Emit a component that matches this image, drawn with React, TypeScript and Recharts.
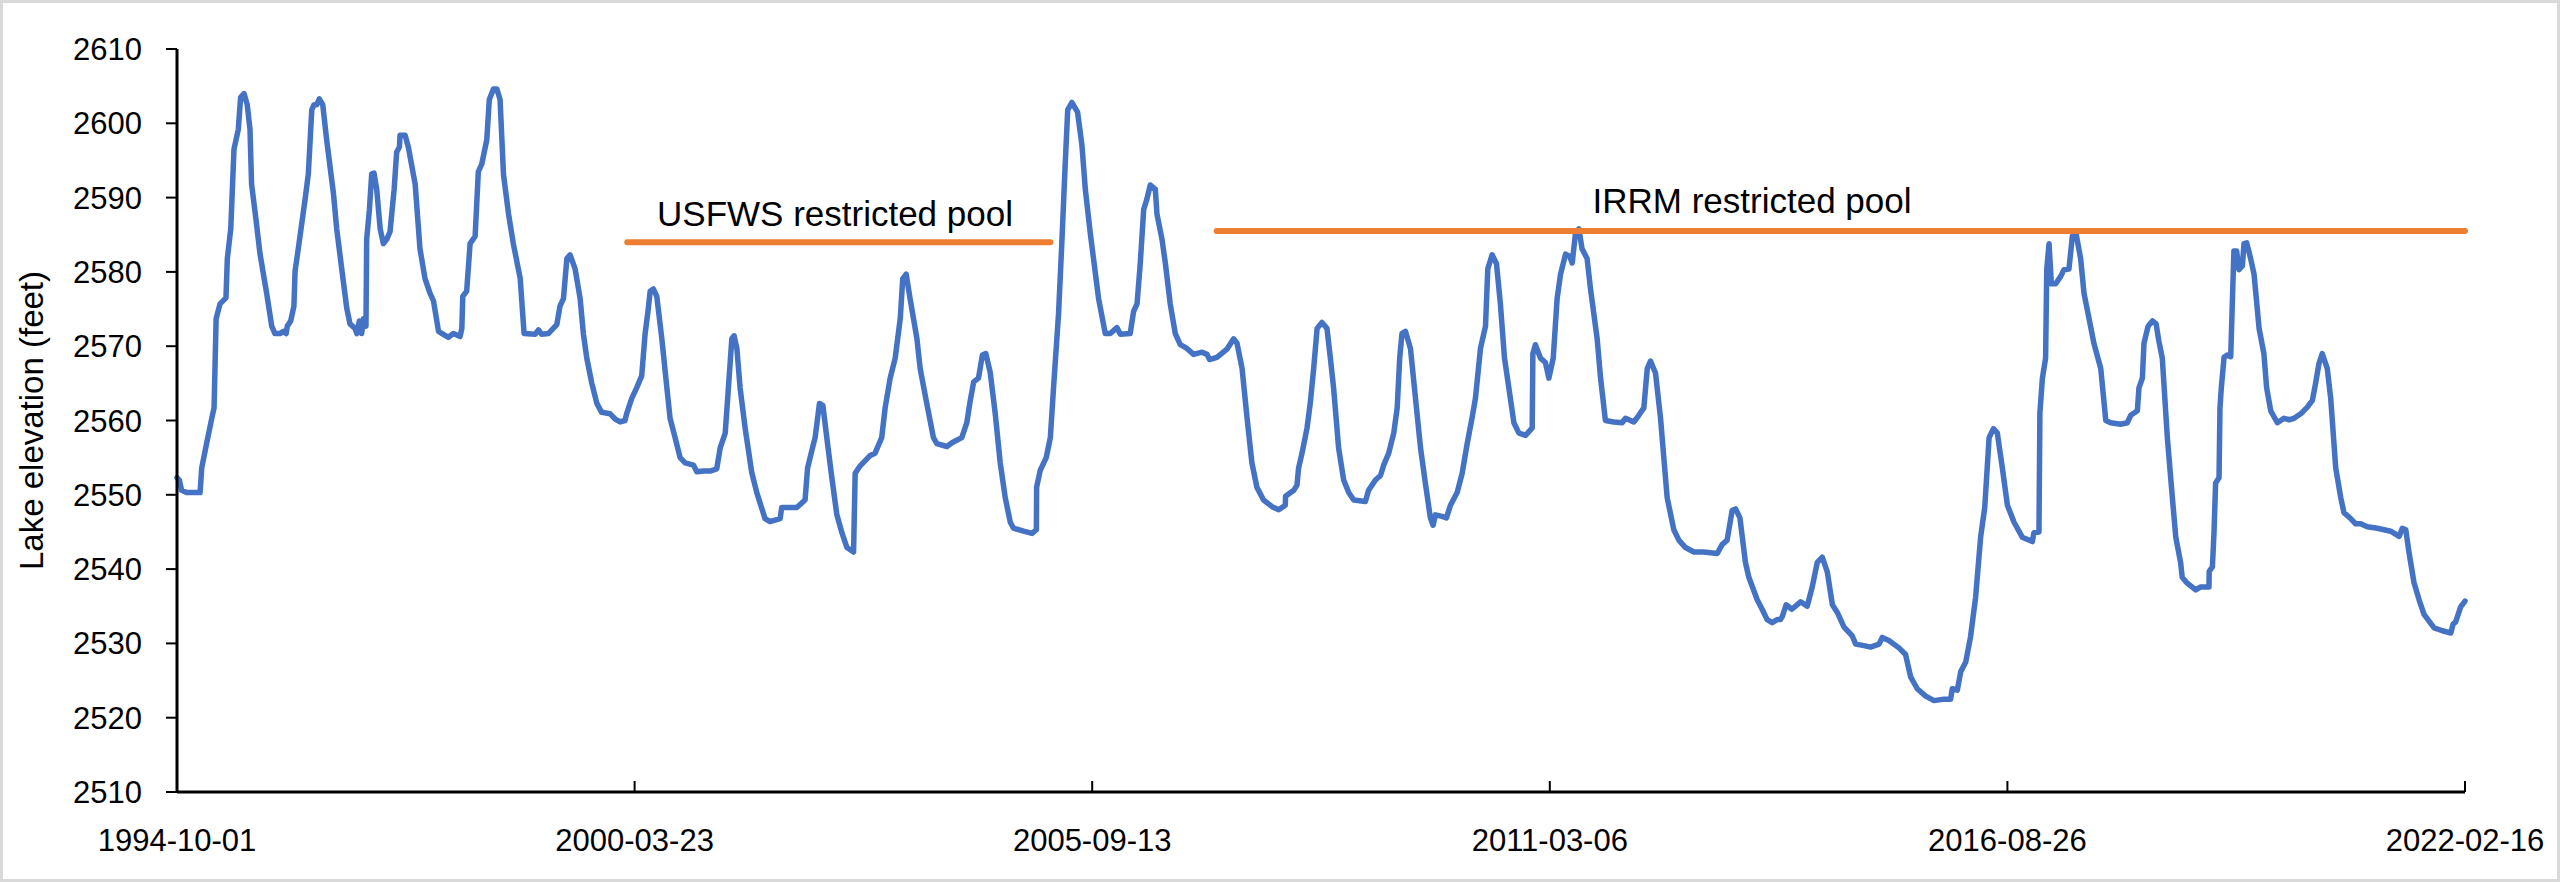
import React from "react";
import { LineChart, Line, XAxis, YAxis, ReferenceLine, ReferenceDot } from "recharts";

// days since 1994-10-01 and lake elevation (feet)
const dayOffsets = [
  0, 10, 20, 42, 64, 101, 108, 130, 152, 162, 171, 188, 214, 220, 235, 249, 268, 278, 293, 307,
  319, 326, 345, 363, 392, 414, 428, 450, 465, 477, 482, 497, 511, 516, 530, 560, 574, 589, 599, 611,
  622, 637, 654, 684, 698, 720, 742, 756, 778, 786, 797, 807, 815, 826, 829, 841, 851, 861, 873, 888,
  902, 917, 931, 949, 960, 972, 975, 997, 1011, 1041, 1062, 1084, 1106, 1121, 1143, 1164, 1186, 1208, 1237, 1245,
  1249, 1266, 1281, 1303, 1317, 1332, 1354, 1365, 1383, 1398, 1412, 1427, 1449, 1470, 1500, 1517, 1565, 1580, 1594, 1623,
  1660, 1674, 1689, 1704, 1718, 1740, 1762, 1776, 1791, 1813, 1835, 1856, 1893, 1915, 1937, 1958, 1966, 1988, 2009, 2031,
  2046, 2060, 2068, 2082, 2097, 2119, 2141, 2155, 2177, 2199, 2221, 2257, 2272, 2301, 2330, 2359, 2374, 2396, 2410, 2425,
  2435, 2447, 2461, 2483, 2512, 2534, 2570, 2592, 2614, 2636, 2643, 2680, 2709, 2745, 2756, 2775, 2789, 2808, 2823, 2840,
  2862, 2884, 2906, 2928, 2957, 2964, 2986, 3030, 3051, 3080, 3095, 3117, 3139, 3161, 3172, 3187, 3204, 3234, 3248, 3277,
  3306, 3321, 3365, 3387, 3430, 3452, 3466, 3482, 3503, 3520, 3535, 3554, 3576, 3598, 3620, 3642, 3656, 3700, 3737, 3756,
  3757, 3773, 3799, 3817, 3831, 3853, 3868, 3882, 3893, 3911, 3936, 3955, 3970, 3992, 4028, 4057, 4079, 4108, 4123, 4166,
  4181, 4196, 4210, 4225, 4239, 4254, 4276, 4283, 4305, 4320, 4341, 4363, 4385, 4414, 4443, 4480, 4502, 4513, 4545, 4589,
  4618, 4633, 4655, 4677, 4698, 4720, 4749, 4786, 4815, 4844, 4845, 4881, 4895, 4902, 4917, 4939, 4953, 4968, 4983, 5004,
  5026, 5041, 5055, 5077, 5099, 5121, 5143, 5194, 5208, 5238, 5260, 5274, 5296, 5318, 5333, 5344, 5354, 5369, 5391, 5413,
  5435, 5456, 5478, 5490, 5500, 5529, 5548, 5566, 5595, 5617, 5639, 5660, 5675, 5697, 5719, 5729, 5748, 5767, 5784, 5802,
  5821, 5843, 5865, 5894, 5923, 5926, 5937, 5959, 5981, 5996, 6015, 6032, 6047, 6069, 6087, 6098, 6112, 6127, 6141, 6163,
  6178, 6207, 6222, 6243, 6280, 6316, 6331, 6367, 6389, 6411, 6426, 6440, 6462, 6484, 6513, 6542, 6564, 6593, 6630, 6673,
  6732, 6753, 6775, 6797, 6812, 6831, 6855, 6870, 6906, 6928, 6950, 6972, 6994, 7008, 7016, 7033, 7058, 7096, 7125, 7147,
  7169, 7191, 7213, 7235, 7256, 7286, 7322, 7337, 7373, 7402, 7439, 7453, 7482, 7526, 7555, 7577, 7606, 7643, 7679, 7723,
  7752, 7759, 7781, 7796, 7818, 7839, 7861, 7883, 7901, 7920, 7939, 7956, 7978, 8000, 8029, 8065, 8109, 8116, 8138, 8142,
  8153, 8167, 8172, 8182, 8192, 8211, 8233, 8247, 8269, 8284, 8298, 8320, 8335, 8357, 8378, 8408, 8430, 8451, 8495, 8524,
  8539, 8568, 8575, 8590, 8597, 8615, 8634, 8650, 8662, 8677, 8699, 8721, 8736, 8757, 8764, 8786, 8823, 8845, 8881, 8882,
  8896, 8903, 8910, 8925, 8929, 8935, 8947, 8961, 8976, 8983, 8990, 9002, 9012, 9027, 9034, 9046, 9063, 9078, 9100, 9121,
  9133, 9151, 9180, 9209, 9231, 9253, 9282, 9311, 9333, 9347, 9362, 9376, 9398, 9413, 9435, 9457, 9471, 9500, 9522, 9544,
  9573, 9617, 9646, 9675, 9712, 9726, 9741, 9755, 9777, 9799, 9821, 9865, 9901, 9938, 9948, 9959, 9981, 10000,
];

const elevationFt = [
  2552.3, 2552.0, 2550.6, 2550.3, 2550.3, 2550.3, 2553.6, 2557.0, 2560.3, 2561.7, 2573.7, 2575.7, 2576.5, 2581.8, 2585.8, 2596.5, 2599.2, 2603.5, 2604.0, 2602.5,
  2599.2, 2591.8, 2587.1, 2582.4, 2577.1, 2572.7, 2571.7, 2571.7, 2572.0, 2571.7, 2572.7, 2573.4, 2575.4, 2580.1, 2583.1, 2589.8, 2593.2, 2601.8, 2602.5, 2602.5,
  2603.3, 2602.5, 2597.8, 2590.5, 2585.8, 2580.4, 2575.1, 2573.0, 2572.4, 2571.7, 2573.4, 2571.7, 2573.7, 2572.7, 2584.4, 2588.4, 2593.2, 2593.3, 2591.1, 2585.8,
  2583.8, 2584.4, 2585.4, 2591.1, 2596.1, 2596.8, 2598.4, 2598.4, 2596.8, 2591.8, 2583.1, 2579.1, 2577.1, 2576.1, 2572.0, 2571.6, 2571.2, 2571.7, 2571.3, 2572.4,
  2576.7, 2577.4, 2583.8, 2584.8, 2593.5, 2594.5, 2597.8, 2603.2, 2604.6, 2604.6, 2603.2, 2593.1, 2587.8, 2583.8, 2579.1, 2571.7, 2571.6, 2572.2, 2571.6, 2571.7,
  2572.9, 2575.4, 2576.4, 2581.8, 2582.3, 2580.4, 2576.4, 2571.7, 2568.4, 2565.0, 2562.3, 2561.1, 2560.9, 2560.2, 2559.8, 2560.0, 2561.0, 2563.0, 2564.4, 2566.0,
  2571.7, 2575.1, 2577.4, 2577.7, 2576.7, 2571.0, 2564.4, 2560.3, 2557.7, 2555.0, 2554.3, 2554.0, 2553.1, 2553.2, 2553.2, 2553.5, 2556.3, 2558.3, 2564.4, 2571.0,
  2571.4, 2569.7, 2564.4, 2559.0, 2553.0, 2550.3, 2546.8, 2546.4, 2546.6, 2546.8, 2548.3, 2548.3, 2548.3, 2549.3, 2553.6, 2556.0, 2557.7, 2562.3, 2562.0, 2557.7,
  2552.3, 2547.3, 2544.9, 2542.9, 2542.3, 2552.9, 2553.9, 2555.3, 2555.6, 2557.7, 2561.7, 2565.7, 2568.4, 2573.7, 2579.1, 2579.7, 2576.4, 2571.0, 2567.0, 2562.3,
  2557.7, 2556.9, 2556.5, 2557.0, 2557.7, 2559.7, 2562.5, 2565.2, 2565.7, 2568.8, 2569.0, 2566.5, 2561.0, 2554.3, 2549.6, 2546.3, 2545.5, 2545.1, 2544.8, 2545.3,
  2551.0, 2553.3, 2555.0, 2557.7, 2564.4, 2574.4, 2584.4, 2594.5, 2601.8, 2602.8, 2601.5, 2597.1, 2591.1, 2585.1, 2576.4, 2571.7, 2571.7, 2572.5, 2571.6, 2571.7,
  2574.7, 2575.7, 2581.1, 2588.4, 2589.8, 2591.7, 2591.1, 2587.8, 2584.4, 2581.1, 2575.7, 2571.7, 2570.2, 2569.7, 2568.9, 2569.2, 2568.9, 2568.2, 2568.5, 2569.6,
  2571.0, 2570.4, 2567.0, 2560.3, 2554.3, 2551.0, 2549.3, 2548.4, 2548.0, 2548.6, 2549.8, 2550.6, 2551.3, 2553.6, 2555.6, 2559.0, 2562.3, 2567.0, 2572.4, 2573.2,
  2572.4, 2568.4, 2564.4, 2556.3, 2552.0, 2550.3, 2549.3, 2549.1, 2550.6, 2552.0, 2552.6, 2554.0, 2555.6, 2558.3, 2561.7, 2568.4, 2571.7, 2572.0, 2569.7, 2563.0,
  2556.3, 2551.6, 2546.9, 2545.9, 2547.3, 2547.1, 2546.9, 2548.6, 2550.3, 2552.9, 2556.9, 2560.3, 2563.0, 2569.7, 2572.7, 2580.4, 2582.3, 2581.1, 2575.7, 2568.4,
  2564.4, 2559.7, 2558.3, 2558.0, 2559.0, 2569.0, 2570.2, 2568.4, 2567.8, 2565.7, 2568.4, 2576.4, 2579.7, 2582.4, 2582.1, 2581.2, 2585.1, 2585.8, 2583.1, 2581.8,
  2577.7, 2571.0, 2565.7, 2560.0, 2559.8, 2559.7, 2560.3, 2559.8, 2560.7, 2561.7, 2567.0, 2568.0, 2566.4, 2560.3, 2549.6, 2545.3, 2543.9, 2542.9, 2542.3, 2542.3,
  2542.1, 2543.3, 2543.9, 2547.9, 2548.1, 2546.9, 2540.9, 2538.9, 2535.9, 2534.6, 2533.2, 2532.8, 2533.2, 2533.2, 2533.6, 2535.2, 2534.6, 2535.6, 2535.0, 2537.6,
  2540.9, 2541.6, 2539.6, 2535.2, 2534.2, 2532.2, 2531.0, 2529.9, 2529.7, 2529.5, 2529.9, 2530.8, 2530.4, 2529.4, 2528.5, 2525.5, 2523.9, 2522.9, 2522.3, 2522.5,
  2522.5, 2523.9, 2523.7, 2526.2, 2527.5, 2530.9, 2536.2, 2544.3, 2548.3, 2557.7, 2558.9, 2558.3, 2553.6, 2548.6, 2546.3, 2544.3, 2543.7, 2544.9, 2545.0, 2561.0,
  2565.7, 2568.4, 2580.4, 2583.8, 2578.4, 2578.4, 2579.4, 2580.3, 2580.4, 2584.8, 2585.5, 2581.8, 2577.1, 2573.7, 2570.4, 2567.0, 2560.0, 2559.7, 2559.5, 2559.7,
  2560.7, 2561.3, 2564.4, 2565.7, 2570.4, 2572.7, 2573.4, 2573.0, 2570.7, 2568.4, 2557.7, 2549.6, 2544.3, 2540.9, 2538.9, 2538.1, 2537.2, 2537.6, 2537.6, 2539.7,
  2540.3, 2544.9, 2551.6, 2552.3, 2561.7, 2564.4, 2568.5, 2568.8, 2568.6, 2575.7, 2582.8, 2582.8, 2580.3, 2580.8, 2583.8, 2583.9, 2581.8, 2579.7, 2572.4, 2569.0,
  2564.4, 2561.3, 2559.7, 2560.3, 2560.1, 2560.3, 2560.9, 2561.8, 2562.7, 2565.0, 2567.7, 2569.0, 2567.0, 2563.0, 2553.6, 2549.6, 2547.6, 2546.8, 2546.1, 2546.1,
  2545.7, 2545.5, 2545.3, 2545.1, 2544.4, 2545.5, 2545.3, 2542.3, 2538.2, 2535.9, 2533.9, 2532.1, 2531.7, 2531.4, 2532.6, 2532.9, 2534.9, 2535.7,
];

const xTickDays = [0, 2000, 4000, 6000, 8000, 10000];
const xTickLabels = ["1994-10-01", "2000-03-23", "2005-09-13", "2011-03-06", "2016-08-26", "2022-02-16"];
const yTicks = [2510, 2520, 2530, 2540, 2550, 2560, 2570, 2580, 2590, 2600, 2610];

const poolNames = ["USFWS restricted pool", "IRRM restricted pool"];
const poolLevels = [2584.0, 2585.5];
const poolStartDays = [1968, 4544];
const poolEndDays = [3817, 10000];
const poolLabelDays = [2876, 6884];

const FONT = "'Liberation Sans', Arial, sans-serif";

const data = dayOffsets.map((d, i) => ({ day: d, elev: elevationFt[i] }));

function XTick({ x, y, payload }: any) {
  const i = xTickDays.indexOf(payload.value);
  return (
    <g>
      <line x1={x} x2={x} y1={y} y2={y - 11} stroke="#000" strokeWidth={2} />
      <text x={x} y={y + 48} textAnchor="middle" dominantBaseline="central" fontSize={31} fill="#000" fontFamily={FONT}>
        {xTickLabels[i]}
      </text>
    </g>
  );
}

function AxisTitle({ viewBox }: any) {
  const cx = viewBox.x + 31;
  const cy = viewBox.y + viewBox.height / 2;
  return (
    <text
      x={cx}
      y={cy}
      transform={`rotate(-90 ${cx} ${cy})`}
      textAnchor="middle"
      dominantBaseline="central"
      fontSize={33}
      fill="#000"
      fontFamily={FONT}
    >
      Lake elevation (feet)
    </text>
  );
}

export default function App() {
  return (
    <div style={{ position: "absolute", left: 0, top: 0, width: 2560, height: 882, background: "#fff" }}>
      <LineChart
        width={2560}
        height={882}
        data={data}
        margin={{ top: 49, right: 95, bottom: 30, left: 0 }}
        style={{ fontFamily: FONT }}
      >
        <XAxis
          dataKey="day"
          type="number"
          domain={[0, 10000]}
          ticks={xTickDays}
          interval={0}
          height={60}
          tickSize={0}
          tickMargin={0}
          tickLine={false}
          axisLine={{ stroke: "#000", strokeWidth: 3 }}
          tick={<XTick />}
        />
        <YAxis
          type="number"
          domain={[2510, 2610]}
          ticks={yTicks}
          interval={0}
          width={177}
          tickSize={11}
          tickMargin={24}
          tickLine={{ stroke: "#000", strokeWidth: 2 }}
          axisLine={{ stroke: "#000", strokeWidth: 3 }}
          tick={{ fill: "#000", fontSize: 31, fontFamily: FONT }}
          label={{ content: <AxisTitle /> }}
        />
        <Line
          dataKey="elev"
          type="linear"
          stroke="#4472C4"
          strokeWidth={5.5}
          strokeLinejoin="round"
          strokeLinecap="round"
          dot={false}
          activeDot={false}
          isAnimationActive={false}
        />
        {poolNames.map((name, i) => (
          <ReferenceLine
            key={name}
            segment={[
              { x: poolStartDays[i], y: poolLevels[i] },
              { x: poolEndDays[i], y: poolLevels[i] },
            ]}
            stroke="#ED7D31"
            strokeWidth={6}
            strokeLinecap="round"
          />
        ))}
        {poolNames.map((name, i) => (
          <ReferenceDot
            key={name + "-label"}
            x={poolLabelDays[i]}
            y={poolLevels[i]}
            r={0}
            fill="none"
            stroke="none"
            label={{ value: name, position: "top", offset: i === 0 ? 16 : 18, fontSize: 35, fill: "#000", fontFamily: FONT }}
          />
        ))}
      </LineChart>
      <div
        style={{
          position: "absolute",
          inset: 0,
          border: "3px solid #d9d9d9",
          pointerEvents: "none",
        }}
      />
    </div>
  );
}
